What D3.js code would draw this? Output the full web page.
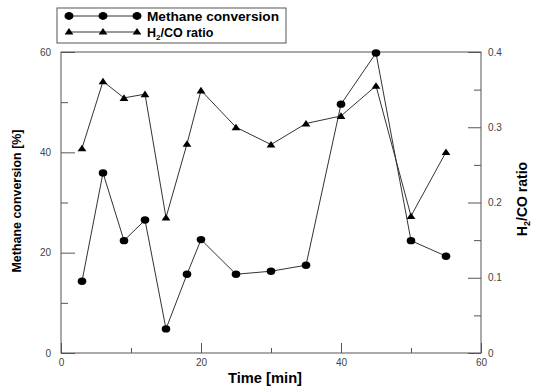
<!DOCTYPE html>
<html><head><meta charset="utf-8">
<script src="https://cdn.jsdelivr.net/npm/d3@7"></script>
<style>body{margin:0;background:#fff}svg{display:block}text{font-family:"Liberation Sans",Arial,sans-serif}</style>
</head><body><svg id="c" width="533" height="387"></svg>
<script>
const times = [3, 6, 9, 12, 15, 18, 20, 25, 30, 35, 40, 45, 50, 55];
const methaneConversion = [14.3, 35.9, 22.4, 26.5, 4.8, 15.7, 22.6, 15.7, 16.3, 17.5, 49.6, 59.8, 22.4, 19.3];
const h2coRatio = [0.272, 0.361, 0.339, 0.344, 0.180, 0.278, 0.349, 0.300, 0.277, 0.305, 0.315, 0.355, 0.182, 0.267];
const xTicks = [0, 20, 40, 60];
const yLeftTicks = [0, 20, 40, 60];
const yRightTicks = [0, 0.1, 0.2, 0.3, 0.4];

const svg = d3.select("#c");
const L = 61, R = 481, T = 52, B = 353;
const x = d3.scaleLinear().domain([0, 60]).range([L, R]);
const yL = d3.scaleLinear().domain([0, 60]).range([B, T]);
const yR = d3.scaleLinear().domain([0, 0.4]).range([B, T]);
const gray = "#555";

// frame
svg.append("rect").attr("x", L).attr("y", T).attr("width", R - L).attr("height", B - T)
  .attr("fill", "none").attr("stroke", gray).attr("stroke-width", 1);

// tick marks (inward)
const axL = d3.axisLeft(yL).tickValues(yLeftTicks).tickSize(-14).tickFormat("");
const axLm = d3.axisLeft(yL).tickValues([10, 30, 50]).tickSize(-7).tickFormat("");
const axR = d3.axisRight(yR).tickValues(yRightTicks).tickSize(-13).tickFormat("");
const axRm = d3.axisRight(yR).tickValues([0.05, 0.15, 0.25, 0.35]).tickSize(-7).tickFormat("");
const axB = d3.axisBottom(x).tickValues(xTicks).tickSize(-10).tickFormat("");
const axBm = d3.axisBottom(x).tickValues([10, 30, 50]).tickSize(-5).tickFormat("");
// labels (zero-length ticks)
const labL = d3.axisLeft(yL).tickValues(yLeftTicks).tickSize(0).tickPadding(10).tickFormat(d3.format("d"));
const labR = d3.axisRight(yR).tickValues(yRightTicks).tickSize(0).tickPadding(7).tickFormat(d => d === 0 ? "0" : d3.format(".1f")(d));
const labB = d3.axisBottom(x).tickValues(xTicks).tickSize(0).tickPadding(6).tickFormat(d3.format("d"));

function style(g) {
  g.select(".domain").remove();
  g.selectAll(".tick line").attr("stroke", gray);
  g.selectAll(".tick text").attr("fill", "#444").style("font-size", "10px").style("font-family", "Liberation Sans, Arial, sans-serif");
}
svg.append("g").attr("transform", `translate(${L},0)`).call(axL).call(style);
svg.append("g").attr("transform", `translate(${L},0)`).call(axLm).call(style);
svg.append("g").attr("transform", `translate(${R},0)`).call(axR).call(style);
svg.append("g").attr("transform", `translate(${R},0)`).call(axRm).call(style);
svg.append("g").attr("transform", `translate(0,${B})`).call(axB).call(style);
svg.append("g").attr("transform", `translate(0,${B})`).call(axBm).call(style);
svg.append("g").attr("transform", `translate(${L},0)`).call(labL).call(style);
svg.append("g").attr("transform", `translate(${R},0)`).call(labR).call(style);
svg.append("g").attr("transform", `translate(0,${B})`).call(labB).call(style);

// series
const lineM = d3.line().x((d, i) => x(times[i])).y(d => yL(d));
const lineH = d3.line().x((d, i) => x(times[i])).y(d => yR(d));
svg.append("path").attr("d", lineH(h2coRatio)).attr("fill", "none").attr("stroke", "#333").attr("stroke-width", 1);
svg.append("path").attr("d", lineM(methaneConversion)).attr("fill", "none").attr("stroke", "#333").attr("stroke-width", 1);

const tri = "M0,-3.6L4.4,3L-4.4,3Z";
svg.selectAll(".tri").data(h2coRatio).join("path")
  .attr("d", tri).attr("fill", "#000")
  .attr("transform", (d, i) => `translate(${x(times[i])},${yR(d)})`);
svg.selectAll(".dot").data(methaneConversion).join("ellipse")
  .attr("cx", (d, i) => x(times[i])).attr("cy", d => yL(d)).attr("rx", 4.3).attr("ry", 3.7).attr("fill", "#000");

// legend
const lg = svg.append("g");
lg.append("rect").attr("x", 57).attr("y", 8).attr("width", 229).attr("height", 35)
  .attr("fill", "#fff").attr("stroke", gray).attr("stroke-width", 1);
const lxs = [69, 103, 137];
lg.append("line").attr("x1", 69).attr("x2", 137).attr("y1", 16).attr("y2", 16).attr("stroke", "#333");
lg.append("line").attr("x1", 69).attr("x2", 137).attr("y1", 32).attr("y2", 32).attr("stroke", "#333");
lxs.forEach(v => {
  lg.append("ellipse").attr("cx", v).attr("cy", 16).attr("rx", 4.5).attr("ry", 3.9).attr("fill", "#000");
  lg.append("path").attr("d", tri).attr("fill", "#000").attr("transform", `translate(${v},31.5)`);
});
lg.append("text").attr("x", 147).attr("y", 20.5).attr("font-size", 12.5).attr("font-weight", "bold")
  .attr("textLength", 132).attr("lengthAdjust", "spacingAndGlyphs").text("Methane conversion");
const t2 = lg.append("text").attr("x", 147).attr("y", 36.5).attr("font-size", 12.5).attr("font-weight", "bold");
t2.append("tspan").text("H");
t2.append("tspan").attr("font-size", 8).attr("dy", 3).text("2");
t2.append("tspan").attr("dy", -3).text("/CO ratio");

// axis titles
svg.append("text").attr("transform", "translate(21,201) rotate(-90)").attr("text-anchor", "middle")
  .attr("font-size", 13).attr("font-weight", "bold").attr("textLength", 143).attr("lengthAdjust", "spacingAndGlyphs")
  .text("Methane conversion [%]");
const rt = svg.append("text").attr("transform", "translate(527,199) rotate(-90)").attr("text-anchor", "middle")
  .attr("font-size", 14).attr("font-weight", "bold");
rt.append("tspan").text("H");
rt.append("tspan").attr("font-size", 9).attr("dy", 3).text("2");
rt.append("tspan").attr("dy", -3).text("/CO ratio");
svg.append("text").attr("x", 265).attr("y", 383).attr("text-anchor", "middle")
  .attr("font-size", 14).attr("font-weight", "bold").attr("textLength", 74).attr("lengthAdjust", "spacingAndGlyphs")
  .text("Time [min]");
</script></body></html>
